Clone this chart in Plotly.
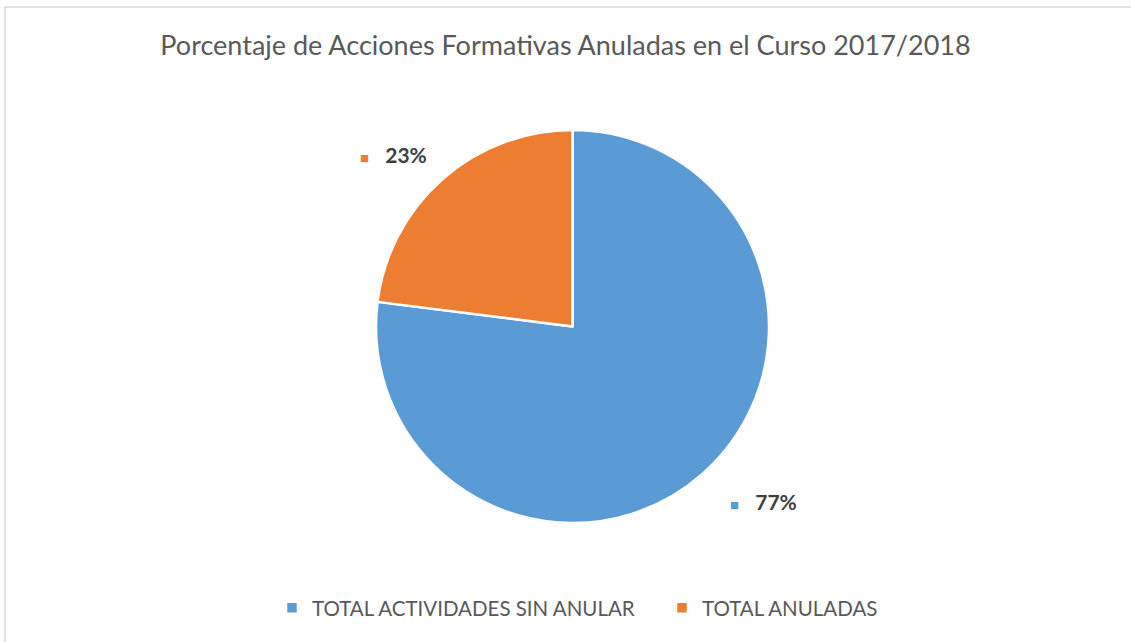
import plotly.graph_objects as go

categories = ["TOTAL ACTIVIDADES SIN ANULAR", "TOTAL ANULADAS"]
values = [77, 23]
colors = ["#5B9BD5", "#ED7D31"]
title_text = "Porcentaje de Acciones Formativas Anuladas en el Curso 2017/2018"

W, H = 1131, 642
total = sum(values)
pcts = [round(v * 100 / total) for v in values]
FONT = "Lato, Open Sans, sans-serif"

fig = go.Figure(go.Pie(
    labels=categories, values=values, sort=False, direction="clockwise",
    rotation=0, marker=dict(colors=colors, line=dict(color="white", width=2.5)),
    textinfo="none", hoverinfo="label+percent",
    domain=dict(x=[376 / W, 769 / W], y=[1 - 523 / H, 1 - 130 / H]),
))

# data labels (Excel-style, with a small colored square)
label_pos = [(763 / W, 1 - 501 / H), (393 / W, 1 - 155 / H)]
for p, c, (x, y) in zip(pcts, colors, label_pos):
    fig.add_annotation(
        x=x, y=y, xref="paper", yref="paper", showarrow=False,
        text=f"<span style='color:{c};font-size:15px'>■</span>   <b>{p}%</b>",
        font=dict(family=FONT, size=21, color="#404040"),
        xanchor="center", yanchor="middle",
    )

fig.update_layout(
    width=W, height=H,
    margin=dict(l=0, r=0, t=0, b=0),
    paper_bgcolor="white", plot_bgcolor="white",
    title=dict(text=title_text, x=0.5, xanchor="center", y=1 - 46 / H, yanchor="middle",
               font=dict(family=FONT, size=27, color="#595959")),
    legend=dict(orientation="h", x=272 / W, xanchor="left", y=1 - 608 / H, yanchor="middle",
                font=dict(family=FONT, size=20.5, color="#595959"),
                itemwidth=30, entrywidth=345, entrywidthmode="pixels"),
    shapes=[
        dict(type="line", xref="paper", yref="paper", x0=5 / W, x1=1.0, y0=1 - 7 / H, y1=1 - 7 / H,
             line=dict(color="#D9D9D9", width=1.5)),
        dict(type="line", xref="paper", yref="paper", x0=5 / W, x1=5 / W, y0=0, y1=1 - 7 / H,
             line=dict(color="#D9D9D9", width=1.5)),
    ],
)

fig.write_html("out.html", config={"displayModeBar": False},
               post_script="document.body.style.margin='0px';")
